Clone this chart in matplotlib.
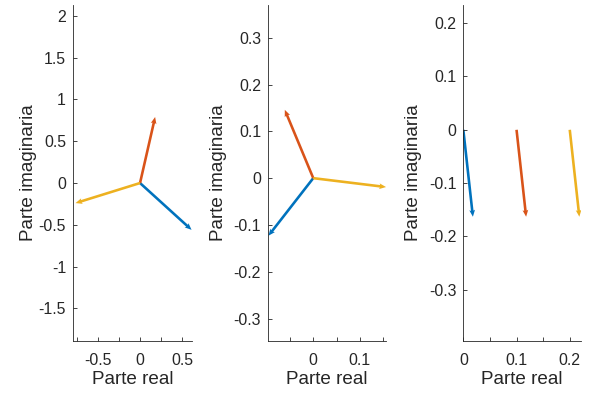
import matplotlib.pyplot as plt
import numpy as np

plt.rcParams['font.family'] = ['Liberation Sans', 'DejaVu Sans']
plt.rcParams['axes.unicode_minus'] = False

# colores MATLAB por defecto
colores = ['#0072BD', '#D95319', '#EDB120']

# fasores 1
x1 = [0, 0, 0]
y1 = [0, 0, 0]
u1 = [0.615, 0.18, -0.77]
v1 = [-0.56, 0.79, -0.24]

# fasores 2
x2 = [0, 0, 0]
y2 = [0, 0, 0]
u2 = [-0.096, -0.061, 0.156]
v2 = [-0.123, 0.146, -0.019]

# fasores 3
x3 = [0, 0.1, 0.2]
y3 = [0, 0, 0]
u3 = [0.018, 0.018, 0.018]
v3 = [-0.163, -0.163, -0.163]

fig = plt.figure(figsize=(5.94, 3.94), dpi=100)

paneles = [
    ([0.1229, 0.1345, 0.2003, 0.8528], x1, y1, u1, v1, (-0.80, 0.62), (-1.89, 2.13),
     [-0.5, 0, 0.5], [-0.75, -0.25, 0.25], np.arange(-1.5, 2.01, 0.5), ['-1.5', '-1', '-0.5', '0', '0.5', '1', '1.5', '2'], 37),
    ([0.4512, 0.1345, 0.1987, 0.8528], x2, y2, u2, v2, (-0.097, 0.156), (-0.348, 0.370),
     [0, 0.1], [-0.05, 0.05, 0.15], np.arange(-0.3, 0.31, 0.1), ['-0.3', '-0.2', '-0.1', '0', '0.1', '0.2', '0.3'], 227),
    ([0.78, 0.1345, 0.198, 0.8528], x3, y3, u3, v3, (0, 0.221), (-0.396, 0.234),
     [0, 0.1, 0.2], [0.05, 0.15], np.arange(-0.3, 0.21, 0.1), ['-0.3', '-0.2', '-0.1', '0', '0.1', '0.2'], 422),
]

for pos, x, y, u, v, xl, yl, xt, xm, yt, ytl, ylx in paneles:
    ax = fig.add_axes(pos)
    ax.quiver(x, y, u, v, color=colores, angles='xy', scale_units='xy', scale=1,
              units='dots', width=2.6, headwidth=2.2, headlength=2.6, headaxislength=2.3)
    ax.set_xlim(xl)
    ax.set_ylim(yl)
    ax.set_xticks(xt)
    ax.set_xticklabels(['0' if t == 0 else ('%g' % t) for t in xt])
    ax.set_xticks(xm, minor=True)
    ax.set_yticks(yt)
    ax.set_yticklabels(ytl)
    for s in ['top', 'right']:
        ax.spines[s].set_visible(False)
    for s in ['left', 'bottom']:
        ax.spines[s].set_color('#262626')
        ax.spines[s].set_linewidth(0.6)
    ax.tick_params(which='both', direction='in', length=3, width=0.6, colors='#262626',
                   labelsize=11.4)
    ax.tick_params(axis='x', pad=8.5)
    ax.tick_params(axis='y', pad=5)
    ax.set_xlabel('Parte real', fontsize=13.6, color='#262626', labelpad=2)
    ax.set_ylabel('Parte imaginaria', fontsize=13.6, color='#262626')
    ax.yaxis.set_label_coords((ylx - pos[0] * 594) / (pos[2] * 594), 0.5)

fig.savefig('out.png', dpi=100)
